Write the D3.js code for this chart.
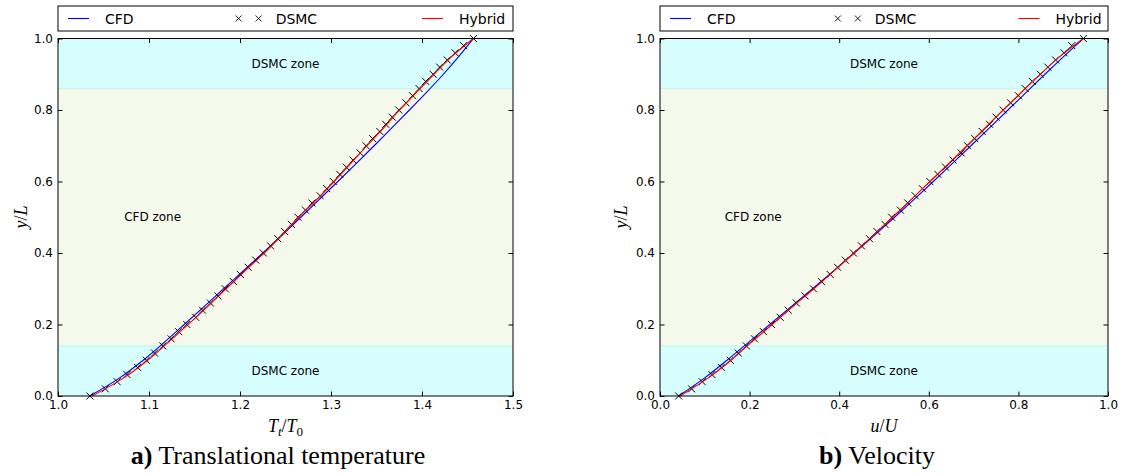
<!DOCTYPE html>
<html><head><meta charset="utf-8">
<script src="https://cdn.jsdelivr.net/npm/d3@7"></script>
<style>body{margin:0;background:#fff}svg{display:block}</style>
</head><body><svg id="c" width="1140" height="475"></svg>
<script>
// ---------- data ----------
const yDSMC = [0.00,0.02,0.04,0.06,0.08,0.10,0.12,0.14,0.16,0.18,0.20,0.22,0.24,0.26,0.28,0.30,0.32,0.34,0.36,0.38,0.40,0.42,0.44,0.46,0.48,0.50,0.52,0.54,0.56,0.58,0.60,0.62,0.64,0.66,0.68,0.70,0.72,0.74,0.76,0.78,0.80,0.82,0.84,0.86,0.88,0.90,0.92,0.94,0.96,0.98,1.00];
const yLine = [0.00,0.05,0.10,0.15,0.20,0.25,0.30,0.35,0.40,0.45,0.50,0.55,0.60,0.65,0.70,0.75,0.80,0.85,0.90,0.95,1.00];

const tempDSMC = [1.035,1.052,1.065,1.0758,1.0874,1.0971,1.1061,1.1152,1.1242,1.1325,1.1415,1.1513,1.1588,1.1675,1.1758,1.1838,1.1928,1.2004,1.209,1.2173,1.2256,1.2336,1.2415,1.2491,1.2565,1.2637,1.2719,1.2791,1.2881,1.2953,1.3025,1.3097,1.3169,1.3241,1.332,1.3385,1.3457,1.3536,1.3601,1.3673,1.3745,1.3824,1.3896,1.3968,1.404,1.4122,1.4194,1.4277,1.4363,1.4457,1.4565];
const tempCFD = [1.035,1.0674,1.0936,1.1167,1.1387,1.1605,1.182,1.2035,1.225,1.2462,1.2668,1.2872,1.3075,1.3276,1.3474,1.3668,1.3862,1.4052,1.4235,1.4405,1.4565];
const tempHybrid = [1.0375,1.072,1.0986,1.1212,1.143,1.1644,1.1848,1.2057,1.2266,1.2463,1.2647,1.2846,1.3035,1.3215,1.3395,1.3579,1.3755,1.3942,1.4132,1.433,1.4565];

const velDSMC = [0.0417,0.0705,0.0942,0.1158,0.1367,0.1568,0.1748,0.1928,0.2108,0.2309,0.2489,0.2683,0.2863,0.3043,0.3237,0.3424,0.3604,0.3799,0.3964,0.4137,0.4317,0.4496,0.4676,0.4842,0.5022,0.517,0.5365,0.5531,0.5697,0.5856,0.6022,0.6202,0.6375,0.6542,0.6722,0.6866,0.7025,0.7191,0.7357,0.7502,0.7661,0.7827,0.8,0.8152,0.831,0.8491,0.8657,0.883,0.9018,0.9191,0.945];
const velCFD = [0.0417,0.099,0.1495,0.1975,0.245,0.2928,0.3405,0.3875,0.4338,0.4792,0.5236,0.5672,0.61,0.6522,0.694,0.7355,0.7768,0.818,0.8592,0.9015,0.945];
const velHybrid = [0.045,0.107,0.1588,0.2038,0.2504,0.2963,0.3434,0.3885,0.433,0.4765,0.519,0.561,0.6025,0.644,0.685,0.7255,0.766,0.807,0.849,0.893,0.945];

const tempTicks = [1.0,1.1,1.2,1.3,1.4,1.5];
const velTicks = [0.0,0.2,0.4,0.6,0.8,1.0];
const yTicks = [0.0,0.2,0.4,0.6,0.8,1.0];
const zoneEdges = [0.14,0.86];
const zoneLabels = ["DSMC zone","CFD zone","DSMC zone"];
const legendLabels = ["CFD","DSMC","Hybrid"];
const titles = [["a)"," Translational temperature"],["b)"," Velocity"]];

// ---------- drawing ----------
const svg = d3.select("#c");
const SANS = "'DejaVu Sans', sans-serif";
const SERIF = "'Liberation Serif', 'Times New Roman', serif";
const C_DSMCZ = "#d6fefe", C_CFDZ = "#f5f9ec", C_EDGE = "#bff5e8";
const TOP = 38.5, BOT = 396;

function crossPath(s){return `M${-s},${-s}L${s},${s}M${-s},${s}L${s},${-s}`;}

function panel(cfg){
  const g = svg.append("g");
  const x = d3.scaleLinear().domain(cfg.domain).range([cfg.left, cfg.right]);
  const y = d3.scaleLinear().domain([0,1]).range([BOT, TOP]);
  const W = cfg.right - cfg.left;

  // zones
  const bands = [[0,zoneEdges[0]],[zoneEdges[0],zoneEdges[1]],[zoneEdges[1],1]];
  bands.forEach((b,i)=>{
    g.append("rect").attr("x",cfg.left).attr("width",W)
      .attr("y",y(b[1])).attr("height",y(b[0])-y(b[1]))
      .attr("fill", i===1 ? C_CFDZ : C_DSMCZ);
  });
  zoneEdges.forEach(e=>{
    g.append("line").attr("x1",cfg.left).attr("x2",cfg.right)
      .attr("y1",y(e)).attr("y2",y(e)).attr("stroke",C_EDGE).attr("stroke-width",1);
  });
  const labPos = [[0.5,0.07],[0.208,0.5],[0.5,0.93]];
  zoneLabels.forEach((t,i)=>{
    g.append("text").attr("x",cfg.left+W*labPos[i][0]).attr("y",y(labPos[i][1]))
      .attr("text-anchor","middle").attr("dominant-baseline","central")
      .attr("font-family",SANS).attr("font-size",12).attr("fill","#000").text(t);
  });

  // series
  const line = d3.line().x(d=>x(d[0])).y(d=>y(d[1])).curve(d3.curveMonotoneY);
  g.append("path").datum(cfg.cfd.map((v,i)=>[v,yLine[i]])).attr("d",line)
    .attr("fill","none").attr("stroke","#0000ff").attr("stroke-width",1.1);
  g.selectAll(".mk").data(cfg.dsmc.map((v,i)=>[v,yDSMC[i]])).enter().append("path")
    .attr("transform",d=>`translate(${x(d[0])},${y(d[1])})`)
    .attr("d",crossPath(3.5)).attr("stroke","#000").attr("stroke-width",1).attr("fill","none");
  g.append("path").datum(cfg.hyb.map((v,i)=>[v,yLine[i]])).attr("d",line)
    .attr("fill","none").attr("stroke","#ff0000").attr("stroke-width",1.1);

  // axes
  const fmt = d3.format(".1f");
  g.append("g").attr("transform",`translate(0,${BOT})`)
    .call(d3.axisBottom(x).tickValues(cfg.ticks).tickFormat(fmt).tickSizeInner(-4.5).tickSizeOuter(0).tickPadding(4));
  g.append("g").attr("transform",`translate(0,${TOP})`)
    .call(d3.axisTop(x).tickValues(cfg.ticks).tickFormat("").tickSizeInner(-4.5).tickSizeOuter(0));
  g.append("g").attr("transform",`translate(${cfg.left},0)`)
    .call(d3.axisLeft(y).tickValues(yTicks).tickFormat(fmt).tickSizeInner(-4.5).tickSizeOuter(0).tickPadding(5));
  g.append("g").attr("transform",`translate(${cfg.right},0)`)
    .call(d3.axisRight(y).tickValues(yTicks).tickFormat("").tickSizeInner(-4.5).tickSizeOuter(0));
  g.selectAll(".domain").remove();
  g.selectAll(".tick line").attr("stroke","#000").attr("stroke-width",1);
  g.selectAll(".tick text").attr("font-family",SANS).attr("font-size",12).attr("fill","#000");

  g.append("rect").attr("x",cfg.left).attr("y",TOP).attr("width",W).attr("height",BOT-TOP)
    .attr("fill","none").attr("stroke","#000").attr("stroke-width",1);

  // legend
  const lg = g.append("g");
  lg.append("rect").attr("x",cfg.left).attr("y",6).attr("width",W).attr("height",25)
    .attr("fill","#fff").attr("stroke","#000").attr("stroke-width",1);
  const ly = 18.5;
  const cols = [cfg.left+10, cfg.left+W*0.397, cfg.left+W*0.80];
  lg.append("line").attr("x1",cols[0]).attr("x2",cols[0]+21).attr("y1",ly).attr("y2",ly).attr("stroke","#0000ff").attr("stroke-width",1.1);
  [0,20].forEach(o=>lg.append("path").attr("transform",`translate(${cols[1]+o},${ly})`).attr("d",crossPath(3)).attr("stroke","#000").attr("stroke-width",0.9));
  lg.append("line").attr("x1",cols[2]).attr("x2",cols[2]+21).attr("y1",ly).attr("y2",ly).attr("stroke","#ff0000").attr("stroke-width",1.1);
  legendLabels.forEach((t,i)=>{
    lg.append("text").attr("x",cols[i]+37).attr("y",23.5).attr("font-family",SANS).attr("font-size",14).attr("fill","#000").text(t);
  });

  // x label
  const xl = g.append("text").attr("x",(cfg.left+cfg.right)/2).attr("y",432).attr("text-anchor","middle")
    .attr("font-family",SERIF).attr("font-size",18).attr("fill","#000");
  cfg.xlabel.forEach(p=>{
    const t = xl.append("tspan").text(p.t);
    if(p.i) t.attr("font-style","italic");
    if(p.sub) t.attr("font-size",13).attr("dy",4);
    if(p.up) t.attr("dy",-4);
  });
  // y label
  const yl = g.append("text").attr("transform",`translate(${cfg.ylx},217) rotate(-90)`).attr("text-anchor","middle")
    .attr("font-family",SERIF).attr("font-size",18).attr("fill","#000");
  yl.append("tspan").attr("font-style","italic").text("y");
  yl.append("tspan").text("/");
  yl.append("tspan").attr("font-style","italic").text("L");

  // title
  const tt = g.append("text").attr("x",cfg.titleX).attr("y",464).attr("text-anchor","middle")
    .attr("font-family",SERIF).attr("font-size",26).attr("fill","#000");
  tt.append("tspan").attr("font-weight","bold").text(cfg.title[0]);
  tt.append("tspan").text(cfg.title[1]);
}

panel({left:58, right:513, domain:[1.0,1.5], ticks:tempTicks, dsmc:tempDSMC, cfd:tempCFD, hyb:tempHybrid,
  xlabel:[{t:"T",i:true},{t:"t",i:true,sub:true},{t:"/",up:true},{t:"T",i:true},{t:"0",sub:true}],
  ylx:27, title:titles[0], titleX:278});
panel({left:660, right:1108, domain:[0.0,1.0], ticks:velTicks, dsmc:velDSMC, cfd:velCFD, hyb:velHybrid,
  xlabel:[{t:"u",i:true},{t:"/"},{t:"U",i:true}],
  ylx:627, title:titles[1], titleX:877});
</script></body></html>
